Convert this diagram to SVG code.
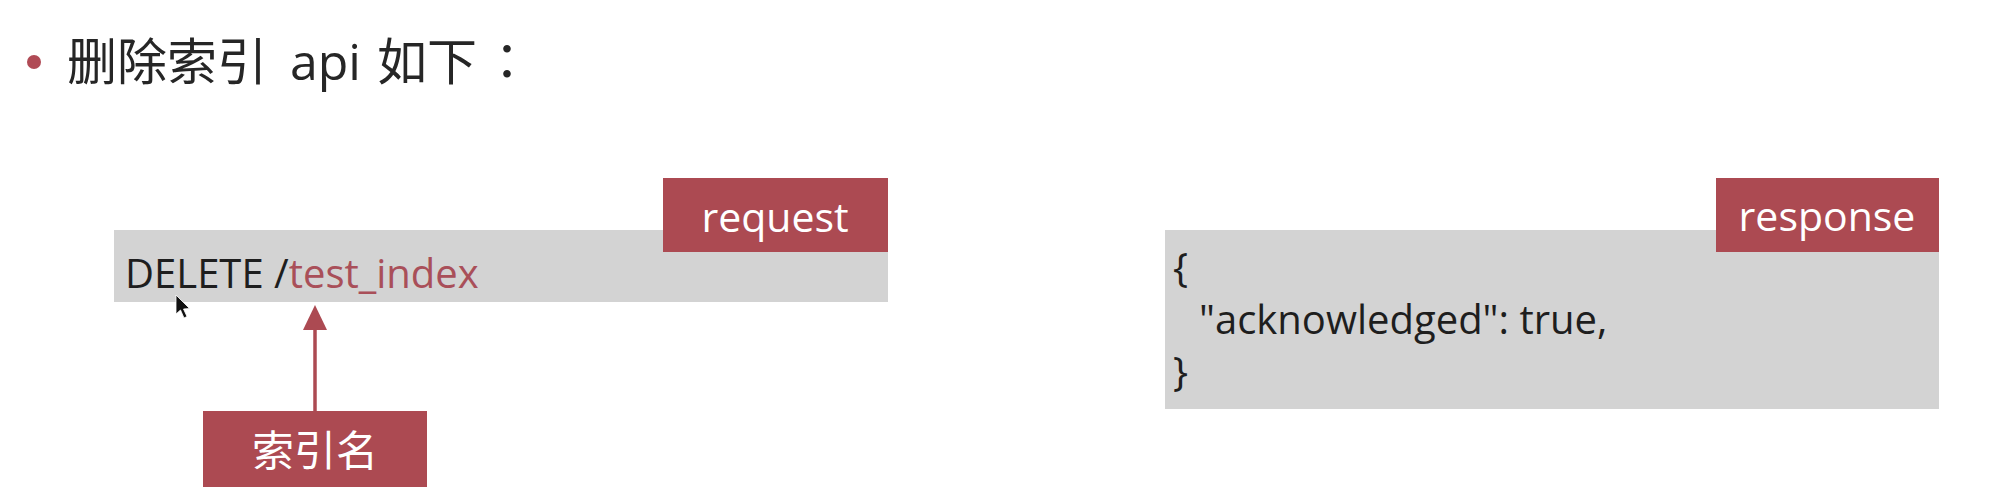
<svg xmlns="http://www.w3.org/2000/svg" width="1992" height="490" viewBox="0 0 1992 490">
  <style>
    .title { font-family: "Noto Sans CJK SC", "Noto Sans", sans-serif; font-size: 50px; fill: #262626; }
    .latin { font-family: "Open Sans", "Noto Sans CJK SC", sans-serif; }
    .punct { font-family: "Noto Sans CJK TC", "Noto Sans CJK SC", sans-serif; }
    .code { font-family: "Open Sans", "Noto Sans", sans-serif; font-size: 40px; fill: #1e1e1e; }
    .label { font-family: "Open Sans", "Noto Sans", sans-serif; font-size: 41px; fill: #ffffff; }
    .cjklabel { font-family: "Noto Sans CJK SC", sans-serif; font-size: 42px; fill: #ffffff; }
    .panel { fill: #d3d3d3; }
    .tag { fill: #ac4a52; }
    .hl { fill: #a94f59; }
  </style>
  <defs>
    <marker id="arrowhead" viewBox="0 0 25 24" refX="0" refY="12" markerWidth="25" markerHeight="24" markerUnits="userSpaceOnUse" orient="auto">
      <path d="M0,0 L25,12 L0,24 Z" fill="#ac4a52"/>
    </marker>
  </defs>
  <rect width="1992" height="490" fill="#ffffff"/>

  <g id="title">
    <circle cx="34" cy="62" r="7" fill="#b04a55"/>
    <text class="title" x="67" y="80">删除索引<tspan class="latin" x="290">api</tspan><tspan x="377">如下</tspan><tspan class="punct" x="482">：</tspan></text>
  </g>

  <g id="request-panel">
    <rect class="panel" x="114" y="230" width="774" height="72"/>
    <text class="code" x="125" y="288">DELETE /<tspan class="hl">test_index</tspan></text>
  </g>

  <g id="request-tag">
    <rect class="tag" x="663" y="178" width="225" height="74"/>
    <text class="label" x="775" y="232" text-anchor="middle">request</text>
  </g>

  <g id="index-name">
    <rect class="tag" x="203" y="411" width="224" height="76"/>
    <text class="cjklabel" x="315" y="466" text-anchor="middle">索引名</text>
  </g>

  <g id="response-panel">
    <rect class="panel" x="1165" y="230" width="774" height="179"/>
    <text class="code" x="1173" y="282">{</text>
    <text class="code" x="1199" y="334">"acknowledged": true,</text>
    <text class="code" x="1173" y="386">}</text>
  </g>

  <g id="response-tag">
    <rect class="tag" x="1716" y="178" width="223" height="74"/>
    <text class="label" x="1827" y="231" text-anchor="middle">response</text>
  </g>

  <g id="connectors">
    <line x1="315" y1="411" x2="315" y2="330" stroke="#ac4a52" stroke-width="3.5" marker-end="url(#arrowhead)"/>
  </g>

  <g id="cursor">
    <path d="M176,295 L176,314 L180.5,310 L184,318 L187,316.5 L183.5,309 L189.5,308.5 Z" fill="#111111" stroke="#ffffff" stroke-width="0.8"/>
  </g>
</svg>
